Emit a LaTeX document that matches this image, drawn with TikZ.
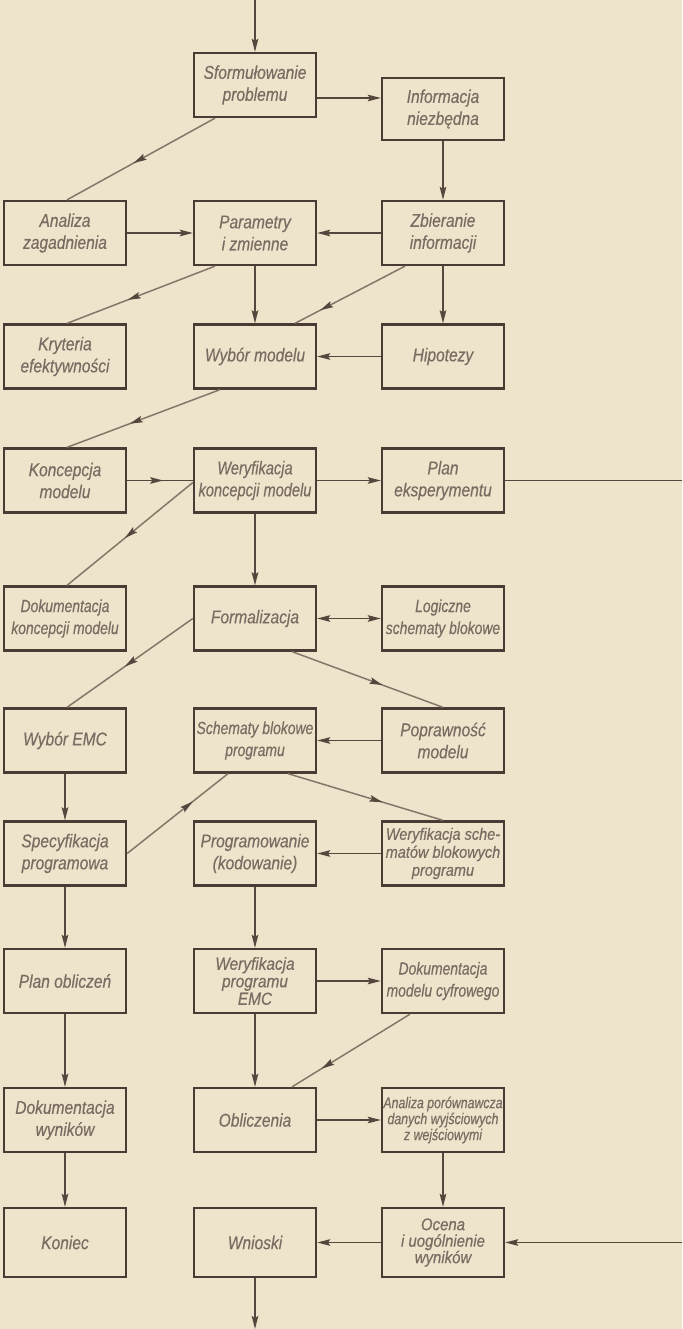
\documentclass[tikz,border=0pt]{standalone}
\usepackage{fontspec}
\newfontfamily\lbl{Liberation Sans}[FakeStretch=0.84,FakeBold=0.4]
\newfontfamily\lbln{Liberation Sans}[FakeStretch=0.79,FakeBold=0.4]
\newfontfamily\lblw{Liberation Sans}[FakeStretch=0.88,FakeBold=0.4]
\usetikzlibrary{arrows.meta,decorations.markings}
\definecolor{bgc}{HTML}{EEE3CB}
\definecolor{boxc}{HTML}{4A3C34}
\definecolor{linec}{HTML}{55473E}
\definecolor{diagc}{HTML}{857669}
\definecolor{txtc}{HTML}{7A6C62}
\tikzset{
  tip/.tip={Stealth[length=13pt,width=6.5pt,inset=2pt]},
  blk/.style={draw=boxc, line width=2.3pt, minimum width=122pt, minimum height=64pt,
    inner sep=1pt, text=txtc, align=center, font=\lbl\itshape\fontsize{18.5}{22}\selectfont},
  narrow/.style={font=\lbln\itshape\fontsize{18.5}{22}\selectfont},
  narrower/.style={font=\lbln\itshape\fontsize{17.6}{22}\selectfont},
  conn/.style={draw=linec, line width=1.7pt, -tip},
  plain/.style={draw=linec, line width=1.7pt},
  diag/.style={draw=diagc, line width=1.5pt, postaction={decorate},
    decoration={markings, mark=at position #1 with {\arrow[linec]{tip}}}},
  midconn/.style={draw=linec, line width=1.7pt, postaction={decorate},
    decoration={markings, mark=at position #1 with {\arrow[linec]{tip}}}},
}
\begin{document}
\begin{tikzpicture}[x=1pt,y=-1pt]
\fill[bgc] (0,0) rectangle (682,1329);
\useasboundingbox (0,0) rectangle (682,1329);
% row 0
\node[blk] (sform) at (255,85) {Sformułowanie\\problemu};
\node[blk, minimum height=62pt] (info) at (443,109) {Informacja\\niezbędna};
% row 1
\node[blk] (anal) at (65,233) {Analiza\\zagadnienia};
\node[blk] (param) at (255,233) {Parametry\\i zmienne};
\node[blk] (zbier) at (443,233) {Zbieranie\\informacji};
% row 2
\node[blk] (kryt) at (65,356.5) {Kryteria\\efektywności};
\node[blk] (wybor) at (255,356.5) {Wybór modelu};
\node[blk] (hipo) at (443,356.5) {Hipotezy};
% row 3
\node[blk] (konc) at (65,480.5) {Koncepcja\\modelu};
\node[blk, narrow] (weryf) at (255,480.5) {Weryfikacja\\koncepcji modelu};
\node[blk] (plan) at (443,480.5) {Plan\\eksperymentu};
% row 4
\node[blk, narrower] (dokk) at (65,618.5) {Dokumentacja\\koncepcji modelu};
\node[blk] (formal) at (255,618.5) {Formalizacja};
\node[blk, narrower] (logi) at (443,618.5) {Logiczne\\schematy blokowe};
% row 5
\node[blk] (emc) at (65,740.5) {Wybór EMC};
\node[blk, narrower] (schem) at (255,740.5) {Schematy blokowe\\programu};
\node[blk] (popr) at (443,740.5) {Poprawność\\modelu};
% row 6
\node[blk] (spec) at (65,853.5) {Specyfikacja\\programowa};
\node[blk] (progr) at (255,853.5) {Programowanie\\(kodowanie)};
\node[blk, font=\lblw\itshape\fontsize{16.5}{18}\selectfont] (wersch) at (443,853.5) {Weryfikacja sche-\\matów blokowych\\programu};
% row 7
\node[blk] (plobl) at (65,981) {Plan obliczeń};
\node[blk, font=\lblw\itshape\fontsize{17.5}{17.5}\selectfont] (werprog) at (255,981) {Weryfikacja\\programu\\EMC};
\node[blk, narrower] (dokcyf) at (443,981) {Dokumentacja\\modelu cyfrowego};
% row 8
\node[blk] (dokw) at (65,1120) {Dokumentacja\\wyników};
\node[blk] (oblicz) at (255,1120) {Obliczenia};
\node[blk, font=\lbln\itshape\fontsize{15.6}{16}\selectfont] (anpor) at (443,1120) {Analiza porównawcza\\danych wyjściowych\\z wejściowymi};
% row 9
\node[blk, minimum height=69pt] (kon) at (65,1242.5) {Koniec};
\node[blk, minimum height=69pt] (wnio) at (255,1242.5) {Wnioski};
\node[blk, minimum height=69pt, font=\lblw\itshape\fontsize{17}{16.5}\selectfont] (ocena) at (443,1242.5) {Ocena\\i uogólnienie\\wyników};
% free ends
\coordinate (topin) at (255,0);
\coordinate (botout) at (255,1329);
\coordinate (rightout) at (682,480.5);
\coordinate (rightin) at (682,1242.5);
% straight connectors
\draw[conn] (topin) -- (sform.north);
\draw[conn] (sform.east |- 0,98) -- (info.west |- 0,98);
\draw[conn] (info.south) -- (zbier.north);
\draw[conn] (anal.east) -- (param.west);
\draw[conn] (zbier.west) -- (param.east);
\draw[conn] (param.south) -- (wybor.north);
\draw[conn] (zbier.south) -- (hipo.north);
\draw[conn] (hipo.west) -- (wybor.east);
\draw[midconn=0.55] (konc.east) -- (weryf.west);
\draw[conn] (weryf.east) -- (plan.west);
\draw[plain] (plan.east) -- (rightout);
\draw[conn] (weryf.south) -- (formal.north);
\draw[draw=linec, line width=1.7pt, tip-tip] (formal.east) -- (logi.west);
\draw[conn] (popr.west) -- (schem.east);
\draw[conn] (emc.south) -- (spec.north);
\draw[conn] (wersch.west) -- (progr.east);
\draw[conn] (spec.south) -- (plobl.north);
\draw[conn] (progr.south) -- (werprog.north);
\draw[conn] (werprog.east) -- (dokcyf.west);
\draw[conn] (werprog.south) -- (oblicz.north);
\draw[conn] (plobl.south) -- (dokw.north);
\draw[conn] (oblicz.east) -- (anpor.west);
\draw[conn] (anpor.south) -- (ocena.north);
\draw[conn] (dokw.south) -- (kon.north);
\draw[conn] (ocena.west) -- (wnio.east);
\draw[conn] (wnio.south) -- (botout);
\draw[conn] (rightin) -- (ocena.east);
% diagonal connectors
\draw[diag=0.55] ([xshift=-40pt]sform.south) -- ([xshift=2pt]anal.north);
\draw[diag=0.59] ([xshift=-40pt]param.south) -- ([xshift=2pt]kryt.north);
\draw[diag=0.77] ([xshift=-38pt]zbier.south) -- ([xshift=40pt]wybor.north);
\draw[diag=0.59] ([xshift=-35pt]wybor.south) -- ([xshift=2pt]konc.north);
\draw[diag=0.54] ([yshift=-2pt]weryf.west) -- ([xshift=2pt]dokk.north);
\draw[diag=0.54] (formal.west) -- ([xshift=2pt]emc.north);
\draw[diag=0.60] ([xshift=37pt]formal.south) -- (popr.north);
\draw[diag=0.65] (spec.east) -- ([xshift=-27pt]schem.south);
\draw[diag=0.61] ([xshift=33pt]schem.south) -- (wersch.north);
\draw[diag=0.75] ([xshift=-33pt]dokcyf.south) -- ([xshift=37pt]oblicz.north);
\end{tikzpicture}
\end{document}
